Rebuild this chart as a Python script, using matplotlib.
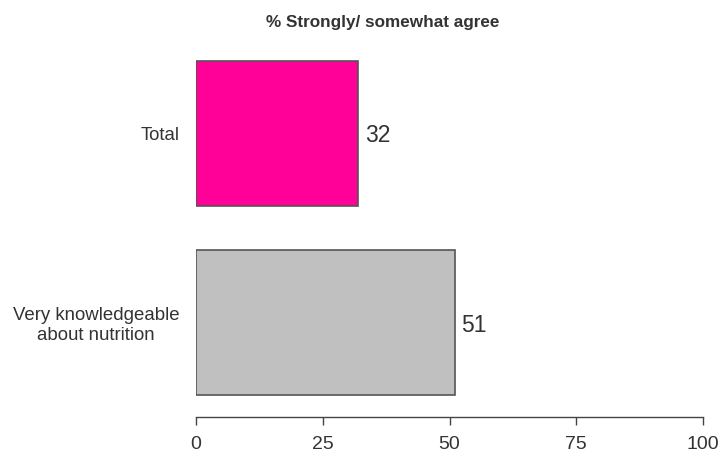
import matplotlib
matplotlib.use("Agg")
import matplotlib.pyplot as plt

categories = ["Total", "Very knowledgeable\nabout nutrition"]
values = [32, 51]
colors = ["#FF0099", "#C0C0C0"]
x_ticks = [0, 25, 50, 75, 100]
title = "% Strongly/ somewhat agree"

plt.rcParams['font.family'] = ['Liberation Sans', 'DejaVu Sans']

fig = plt.figure(figsize=(7.22, 4.53), dpi=100)
ax = fig.add_axes([196/722, (453-417)/453, 507/722, 378/453])

pos = list(range(len(categories)))
ax.barh(pos, values, height=0.767, color=colors, edgecolor="#555555", linewidth=1.2)
for p, v in zip(pos, values):
    ax.text(v + 1.3, p, f"{v}", va="center_baseline", ha="left", fontsize=16.5, color="#333333")

ax.set_xlim(0, 100)
ax.set_ylim(1.5, -0.5)
ax.set_xticks(x_ticks)
ax.set_xticklabels([str(t) for t in x_ticks], fontsize=14, color="#333333")
ax.set_yticks(pos)
ax.set_yticklabels(categories, fontsize=13.4, color="#333333", multialignment="center",
                   linespacing=1.17)
ax.tick_params(axis="y", length=0, pad=12)
ax.tick_params(axis="x", length=6, width=1, color="#444444", pad=7.5, direction="out")
for s in ["top", "right", "left"]:
    ax.spines[s].set_visible(False)
ax.spines["bottom"].set_color("#444444")
ax.spines["bottom"].set_linewidth(1)

fig.text(383/722, 1 - 22/453, title, ha="center", va="center", fontsize=12.3,
         fontweight="bold", color="#333333")

fig.savefig("out.png", dpi=100)
